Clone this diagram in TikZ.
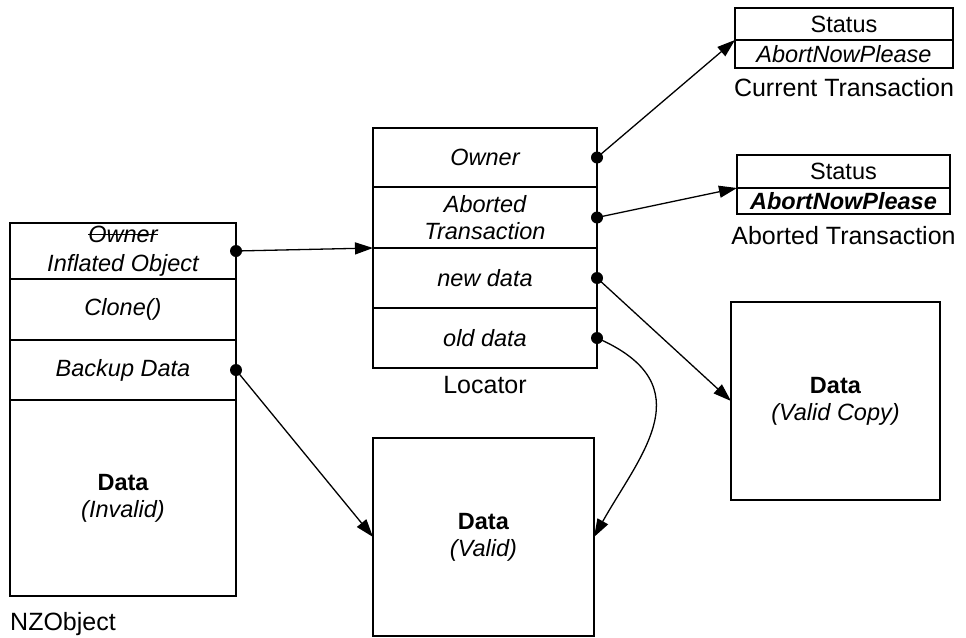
\documentclass[tikz,border=0pt]{standalone}
\usepackage{fontspec}
\setmainfont{Liberation Sans}
\usetikzlibrary{arrows.meta,positioning}

\newcommand{\diagfont}{\fontsize{23.5}{27}\selectfont}
\newcommand{\namefont}{\fontsize{25}{28}\selectfont}
\newcommand{\strikeword}[1]{\leavevmode\setbox0\hbox{#1}\rlap{\rule[0.3em]{\wd0}{0.06em}}\box0}

\begin{document}
\begin{tikzpicture}[x=1pt, y=-1pt,
    cell/.style={rectangle, draw, line width=1.4pt, inner sep=0pt, outer sep=0pt, align=center, font=\diagfont\itshape},
    tag/.style={rectangle, draw, line width=1.4pt, inner sep=0pt, outer sep=0pt, align=center, font=\diagfont},
    caption/.style={inner sep=0pt, font=\namefont},
    dot/.style={circle, fill, inner sep=0pt, minimum size=12pt},
    link/.style={line width=1.3pt, -{Triangle[length=18pt, width=12pt]}}
]
\useasboundingbox (0,0) rectangle (966,637);

% NZObject
\node[cell, minimum width=226pt, minimum height=56pt] (nzo1) at (123,251) {\strikeword{Owner}\\[2pt]Inflated Object};
\node[cell, minimum width=226pt, minimum height=61pt] (nzo2) at (123,309.5) {Clone()};
\node[cell, minimum width=226pt, minimum height=60pt] (nzo3) at (123,370) {Backup Data};
\node[cell, minimum width=226pt, minimum height=196pt] (nzo4) at (123,498) {\textbf{\upshape Data}\\(Invalid)};
\node[caption, below right=16pt and 0pt of nzo4.south west] (nzname) {NZObject};

% Locator
\node[cell, minimum width=224pt, minimum height=59pt] (loc1) at (485,157.5) {Owner};
\node[cell, minimum width=224pt, minimum height=61pt] (loc2) at (485,217.5) {Aborted\\Transaction};
\node[cell, minimum width=224pt, minimum height=60pt] (loc3) at (485,278) {new data};
\node[cell, minimum width=224pt, minimum height=60pt] (loc4) at (485,338) {old data};
\node[caption, below=8pt of loc4] (locname) {Locator};

% transactions
\node[tag, minimum width=218pt, minimum height=32pt] (cur1) at (844,24) {Status};
\node[tag, minimum width=218pt, minimum height=28pt] (cur2) at (844,54) {\itshape AbortNowPlease};
\node[caption, below=10pt of cur2] (curname) {Current Transaction};
\node[tag, minimum width=213pt, minimum height=33pt] (abt1) at (843.5,171.5) {Status};
\node[tag, minimum width=213pt, minimum height=26pt] (abt2) at (843.5,201) {\itshape\bfseries AbortNowPlease};
\node[caption, below=12pt of abt2] (abtname) {Aborted Transaction};

% data blocks
\node[tag, minimum width=221pt, minimum height=198pt] (valid) at (483.5,537) {\textbf{Data}\\\textit{(Valid)}};
\node[tag, minimum width=209pt, minimum height=198pt] (copy) at (835.5,401) {\textbf{Data}\\\textit{(Valid Copy)}};

% pointers
\node[dot] (p1) at (nzo1.east) {};
\node[dot] (p2) at (nzo3.east) {};
\node[dot] (p3) at (loc1.east) {};
\node[dot] (p4) at (loc2.east) {};
\node[dot] (p5) at (loc3.east) {};
\node[dot] (p6) at (loc4.east) {};

\draw[link] (p1.center) -- (loc2.south west);
\draw[link] (p2.center) -- (valid.west);
\draw[link] (p3.center) -- (cur2.north west);
\draw[link] (p4.center) -- (abt2.north west);
\draw[link] (p5.center) -- (copy.west);
\draw[link] (p6.center) .. controls (705,385) and (640,455) .. (valid.east);
\end{tikzpicture}
\end{document}
